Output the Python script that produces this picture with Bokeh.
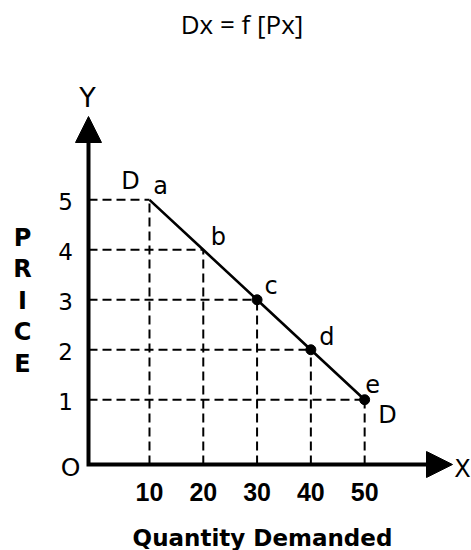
from bokeh.plotting import figure
from bokeh.models import Range1d, Arrow, NormalHead, Label
from bokeh.core.properties import value
from bokeh.embed import file_html
from bokeh.resources import INLINE

# ---- data ----
quantity = [10, 20, 30, 40, 50]
price = [5, 4, 3, 2, 1]
point_labels = ["a", "b", "c", "d", "e"]
dot_shown = [False, False, True, True, True]
price_ticks = [5, 4, 3, 2, 1]
quantity_ticks = [10, 20, 30, 40, 50]
title_text = "Dx = f [Px]"
x_title = "Quantity Demanded"
y_title = ["P", "R", "I", "C", "E"]

# ---- layout ----
W, H = 471, 550
X0, KX = 95.2, 5.379   # px of x=0, px per unit
Y0, KY = 449.2, 49.97  # px of y=0, px per unit (downwards)

def dx(sx):
    return (sx - X0) / KX

def dy(sy):
    return (Y0 - sy) / KY

p = figure(width=W, height=H, output_backend="svg", toolbar_location=None,
           x_range=Range1d(dx(0), dx(W)),
           y_range=Range1d(dy(H), dy(0)),
           min_border=0, min_border_left=0, min_border_right=0,
           min_border_top=0, min_border_bottom=0)
p.axis.visible = False
p.grid.visible = False
p.outline_line_color = None
p.background_fill_color = "white"
p.border_fill_color = "white"

ax_x = dx(88)
ax_y = dy(464)
y_tip = dy(116)
x_tip = dx(452)
y_base = dy(142)
x_base = dx(426)

# dashed guide lines
xs, ys = [], []
for q, pr in zip(quantity, price):
    xs.append([ax_x, q]); ys.append([pr, pr])
    xs.append([q, q]); ys.append([ax_y, pr])
p.multi_line(xs, ys, line_color="black", line_width=2, line_dash="9 5")

# demand curve
p.line(quantity, price, line_color="black", line_width=2.6)
dq = [q for q, s in zip(quantity, dot_shown) if s]
dp = [v for v, s in zip(price, dot_shown) if s]
p.scatter(dq, dp, size=10, color="black")

# axes
p.line([ax_x, ax_x, x_base], [y_base, ax_y, ax_y], line_color="black",
       line_width=4, line_join="miter")
p.add_layout(Arrow(x_start=ax_x, y_start=y_base - 0.5, x_end=ax_x, y_end=y_tip,
                   line_alpha=0,
                   end=NormalHead(size=26, fill_color="black", line_color="black", line_width=1)))
p.add_layout(Arrow(x_start=x_base - 3, y_start=ax_y, x_end=x_tip, y_end=ax_y,
                   line_alpha=0,
                   end=NormalHead(size=26, fill_color="black", line_color="black", line_width=1)))

FONT = "DejaVu Sans"

def lab(sx, sy, t, size=24, bold=False, font=FONT):
    p.add_layout(Label(x=dx(sx), y=dy(sy), text=t, text_font=font,
                       text_font_size=f"{size}px",
                       text_font_style="bold" if bold else "normal",
                       text_align="center", text_baseline="middle",
                       text_color="black"))

# tick labels
for v in price_ticks:
    p.text(x=[ax_x], y=[v], text=[str(v)], x_offset=-23, y_offset=2,
           text_align="center", text_baseline="middle",
           text_font=value(FONT), text_font_size="23px", text_color="black")
for v in quantity_ticks:
    p.text(x=[v], y=[ax_y], text=[str(v)], y_offset=27, text_align="center",
           text_baseline="middle", text_font=value("Liberation Sans"),
           text_font_size="25px", text_font_style="bold", text_color="black")

# point labels (offsets in px from the point)
offsets = [(11, -14), (15, -13), (14, -14), (16, -13), (8, -16)]
for q, pr, t, (ox, oy) in zip(quantity, price, point_labels, offsets):
    p.text(x=[q], y=[pr], text=[t], x_offset=ox, y_offset=oy, text_align="center",
           text_baseline="middle", text_font=value(FONT),
           text_font_size="24px", text_color="black")

lab(130, 180, "D")
lab(387, 414, "D")
lab(87, 97, "Y", size=27)
lab(462, 468, "X")
lab(70, 467, "O", size=25)

# titles
lab(241.5, 23, title_text, size=26, font="Open Sans")
lab(262, 537, x_title, size=23, bold=True)
for i, ch in enumerate(y_title):
    lab(22, 237 + 31.5 * i, ch, size=24, bold=True)

open("out.html", "w").write(file_html(p, INLINE))
